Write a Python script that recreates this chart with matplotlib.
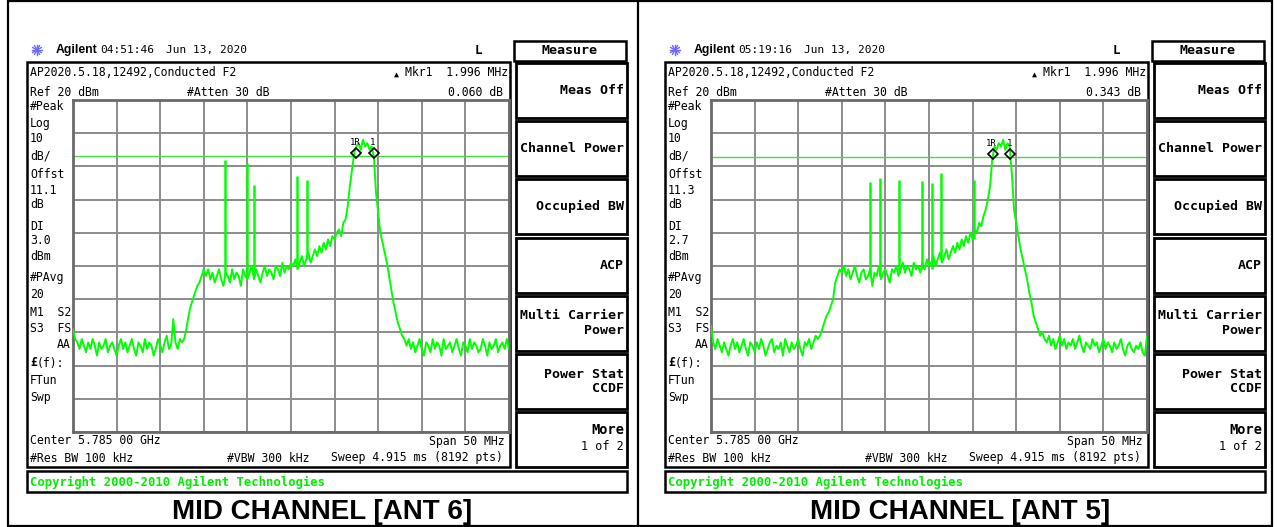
import numpy as np
import matplotlib
matplotlib.use("Agg")
import matplotlib.pyplot as plt
from matplotlib.patches import Rectangle

# ---------------- data ----------------
freq_step_mhz = 0.25
freq_mhz = np.arange(-25, 25.0001, freq_step_mhz)   # 201 trace points, offset from 5.785 GHz

ant6_level = [
    -49, -52, -53, -55, -52, -54, -56, -53, -55, -52,
    -54, -57, -53, -55, -54, -52, -56, -54, -53, -55,
    -57, -54, -52, -55, -53, -56, -54, -52, -55, -57,
    -53, -54, -56, -52, -55, -53, -54, -57, -55, -52,
    -54, -56, -53, -51, -55, -54, -46, -53, -55, -52,
    -53, -52, -49, -45, -42, -40, -38, -36, -35, -33, -31,
    -33, -31, -34, -32, -35, -33, -31, -34, -36, -32,
    -33, -35, -31, -34, -32, -33, -36, -31, -33, -34,
    -32, -30, -34, -31, -33, -35, -32, -30, -33, -31,
    -32, -34, -30, -31, -33, -29, -32, -30, -31, -29,
    -30, -28, -31, -29, -27, -30, -28, -26, -29, -27,
    -25, -27, -24, -26, -23, -25, -22, -24, -21, -22,
    -20, -19, -21, -17, -16, -12, -6, -1, 4,
    6, 7, 5, 8, 6, 7, 5, 6,
    3, -8, -14, -20, -23, -26, -29, -33, -37, -41, -44, -47, -49, -51, -52, -54,
    -52, -55, -53, -56, -54, -52, -55, -57, -53, -54,
    -56, -52, -55, -53, -54, -57, -52, -55, -54, -53,
    -56, -54, -52, -55, -57, -53, -54, -56, -52, -55,
    -53, -54, -56, -55, -52, -54, -57, -53, -55, -54,
    -52, -56, -54, -53, -55, -52, -55,
]
ant5_level = [
    -48, -53, -55, -52, -54, -56, -53, -55, -57, -54,
    -52, -55, -53, -56, -54, -52, -55, -57, -53, -54,
    -56, -53, -55, -52, -54, -57, -55, -53, -52, -56,
    -54, -55, -53, -57, -52, -54, -56, -53, -55, -54,
    -52, -55, -57, -53, -54, -52, -55, -53, -51, -52,
    -51, -49, -47, -45, -44, -42, -40, -35, -33, -31, -32,
    -30, -33, -31, -34, -32, -30, -33, -35, -32, -31,
    -34, -33, -31, -36, -32, -33, -30, -34, -32, -31,
    -33, -35, -31, -32, -30, -33, -31, -29, -32, -30,
    -31, -33, -29, -31, -30, -32, -29, -31, -28, -30,
    -29, -27, -30, -28, -26, -29, -27, -25, -28, -26,
    -24, -26, -23, -25, -22, -24, -21, -23, -20, -22,
    -19, -20, -17, -18, -15, -13, -10, -6, 2,
    6, 5, 7, 6, 8, 5, 7, 6,
    -2, -13, -17, -21, -25, -28, -31, -34, -38, -41, -45, -47, -49, -51, -50, -52,
    -53, -51, -54, -52, -55, -53, -51, -54, -52, -55,
    -53, -54, -52, -55, -53, -51, -54, -56, -53, -54,
    -55, -52, -54, -53, -56, -54, -52, -55, -53, -54,
    -56, -53, -55, -54, -52, -55, -57, -54, -53, -55,
    -56, -54, -55, -53, -56, -57, -51,
]

ant6_spike_freq = [-7.57, -5.05, -4.24, 0.69, 1.83]
ant6_spike_top = [2, 1, -5.5, -3, -4]
ant6_spike_base = [-33, -33, -33, -30, -28]

ant5_spike_freq = [-6.81, -5.66, -3.49, -0.86, 0.29, 1.43, 5.2]
ant5_spike_top = [-4.7, -3.5, -4, -4.4, -5, -2, -4]
ant5_spike_base = [-33, -33, -32, -31, -31, -28, -22]

ant6_marker_freq = [7.50, 9.496]
ant6_marker_level = [4.0, 4.0]
ant5_marker_freq = [7.35, 9.346]
ant5_marker_level = [3.7, 3.7]
marker_labels = ["1R", "1"]

ant6_display_line = 3.0
ant5_display_line = 2.7

panels = [
    dict(time="04:51:46", delta="0.060 dB", offst="11.1", dl_txt="3.0",
         title="MID CHANNEL [ANT 6]", level=ant6_level,
         sf=ant6_spike_freq, st=ant6_spike_top, sb=ant6_spike_base,
         mf=ant6_marker_freq, ml=ant6_marker_level, dl=ant6_display_line),
    dict(time="05:19:16", delta="0.343 dB", offst="11.3", dl_txt="2.7",
         title="MID CHANNEL [ANT 5]", level=ant5_level,
         sf=ant5_spike_freq, st=ant5_spike_top, sb=ant5_spike_base,
         mf=ant5_marker_freq, ml=ant5_marker_level, dl=ant5_display_line),
]

softkeys = ["Meas Off", "Channel Power", "Occupied BW", "ACP",
            "Multi Carrier\nPower", "Power Stat\nCCDF"]
left_labels = ["#Peak", "Log", "10", "dB/", "Offst", None, "dB", "DI", None, "dBm",
               "#PAvg", "20", "M1  S2", "S3  FS"]
left_label_y = [107, 123, 139, 156, 175, 191, 205, 226, 241, 257, 277, 294, 312, 329]

# ---------------- figure ----------------
W, H = 1278, 527
fig = plt.figure(figsize=(W / 100, H / 100), dpi=100)
bg = fig.add_axes([0, 0, 1, 1])
bg.set_xlim(0, W)
bg.set_ylim(H, 0)
bg.axis("off")

MONO = "DejaVu Sans Mono"
GREEN = "#00ff00"

# outer frame
bg.add_patch(Rectangle((8, 1), 1264, 525, fill=False, ec="black", lw=1.6))
bg.plot([638, 638], [1, 526], color="black", lw=1.6)

def t(x, y, s, ha="left", size=8.3, weight="normal", family=MONO, color="black"):
    bg.text(x, y, s, ha=ha, va="center", fontsize=size, fontweight=weight,
            family=family, color=color)

for k, p in enumerate(panels):
    ox = 638 * k
    # header
    cx, cy = ox + 37, 50
    for ang in np.linspace(0, np.pi, 6, endpoint=False):
        bg.plot([cx - 5 * np.cos(ang), cx + 5 * np.cos(ang)],
                [cy - 5 * np.sin(ang), cy + 5 * np.sin(ang)], color="#6a6aff", lw=1)
    t(ox + 56, 50, "Agilent", size=8.8, weight="bold", family="Liberation Sans")
    t(ox + 100, 50, p["time"], size=8.0)
    t(ox + 166, 50, "Jun 13, 2020", size=8.0)
    t(ox + 478, 50, "L", ha="center", size=9, weight="bold")

    # measure title box
    bg.add_patch(Rectangle((ox + 514, 41), 112, 20, fill=False, ec="black", lw=1.8))
    t(ox + 570, 51, "Measure", ha="center", size=9.6, weight="bold")

    # screen box
    bg.add_patch(Rectangle((ox + 27, 62), 483, 405, fill=False, ec="black", lw=1.8))
    t(ox + 30, 73, "AP2020.5.18,12492,Conducted F2")
    t(ox + 30, 92, "Ref 20 dBm")
    t(ox + 187, 92, "#Atten 30 dB")
    bg.text(ox + 396, 74, "▲", ha="center", va="center", fontsize=6, family=MONO)
    t(ox + 508, 73, "Mkr1  1.996 MHz", ha="right")
    t(ox + 503, 92, p["delta"], ha="right")

    labels = list(left_labels)
    labels[5] = p["offst"]
    labels[8] = p["dl_txt"]
    for lab, yy in zip(labels, left_label_y):
        t(ox + 30, yy, lab)
    t(ox + 71, 344, "AA", ha="right")
    t(ox + 30, 363, "£", weight="bold")
    t(ox + 37, 363, "(f):")
    t(ox + 30, 380, "FTun")
    t(ox + 30, 397, "Swp")

    t(ox + 30, 441, "Center 5.785 00 GHz")
    t(ox + 30, 458, "#Res BW 100 kHz")
    t(ox + 227, 458, "#VBW 300 kHz")
    t(ox + 505, 441, "Span 50 MHz", ha="right")
    t(ox + 503, 458, "Sweep 4.915 ms (8192 pts)", ha="right")

    # softkeys
    for i in range(7):
        top = 63 + 58.2 * i
        bg.add_patch(Rectangle((ox + 516, top), 111, 55, fill=False, ec="black", lw=2.0))
        if i < 6:
            t(ox + 624, top + 27.5, softkeys[i], ha="right", size=9.5, weight="bold")
    t(ox + 624, 430, "More", ha="right", size=9.8, weight="bold")
    t(ox + 624, 447, "1 of 2", ha="right", size=8.5)

    # copyright bar
    bg.add_patch(Rectangle((ox + 27, 471), 600, 21, fill=False, ec="black", lw=1.8))
    t(ox + 30, 482, "Copyright 2000-2010 Agilent Technologies", size=8.8,
      weight="bold", color="#00ee00")

    # caption
    bg.text(ox + 322, 512, p["title"], ha="center", va="center", fontsize=20,
            fontweight="bold", family="Liberation Sans")

    # grid / trace axes
    gl, gr, gt, gb = ox + 73, ox + 509, 100, 432
    ax = fig.add_axes([gl / W, 1 - gb / H, (gr - gl) / W, (gb - gt) / H])
    ax.set_xlim(-25, 25)
    ax.set_ylim(-80, 20)
    ax.set_xticks(np.arange(-25, 26, 5))
    ax.set_yticks(np.arange(-80, 21, 10))
    ax.tick_params(length=0, labelbottom=False, labelleft=False)
    ax.grid(True, color="#8c8c8c", lw=1.4)
    ax.set_axisbelow(True)
    for s in ax.spines.values():
        s.set_color("#6a6a6a")
        s.set_linewidth(2.0)
    ax.axhline(p["dl"], color="#44dd44", lw=1.0, zorder=2)
    ax.plot(freq_mhz, p["level"], color=GREEN, lw=1.4, zorder=3)
    ax.vlines(p["sf"], p["sb"], p["st"], color=GREEN, lw=1.8, zorder=3)
    ax.plot(p["mf"], p["ml"], "D", mfc="none", mec="black", ms=5, mew=1.2, zorder=4)
    for f, lv, lab in zip(p["mf"], p["ml"], marker_labels):
        ax.annotate(lab, (f, lv), xytext=(-1, 8), textcoords="offset points",
                    ha="center", va="center", fontsize=6.5, family=MONO, zorder=5)

fig.savefig("out.png", dpi=100)
